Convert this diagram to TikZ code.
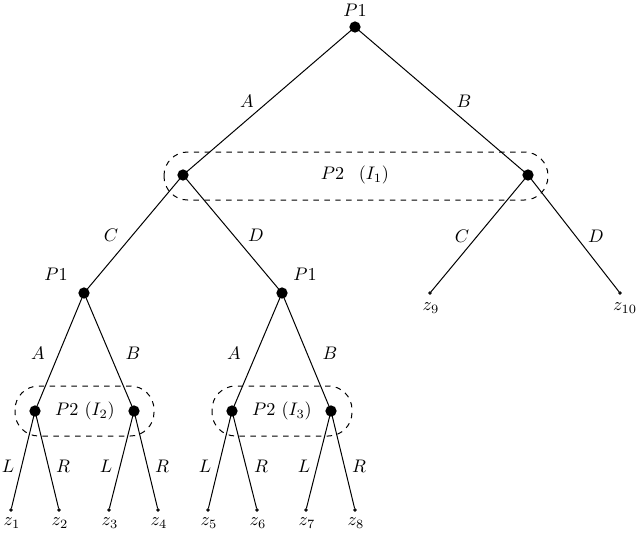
\documentclass[tikz,border=0pt]{standalone}
\begin{document}
\begin{tikzpicture}[x=0.55pt,y=-0.55pt,
  dec/.style={circle,fill=black,inner sep=0pt,minimum size=6.2pt},
  leaf/.style={circle,fill=black,draw=black,line width=0.3pt,inner sep=0pt,minimum size=1.6pt},
  edge/.style={line width=0.55pt},
  info/.style={dashed,line width=0.55pt,rounded corners=13pt},
  lab/.style={inner sep=1pt}]
\useasboundingbox (0,0) rectangle (640,533);
% decision nodes
\node[dec] (r) at (355,27) {};
\node[dec] (a) at (183,175) {};
\node[dec] (b) at (528,175) {};
\node[dec] (c) at (84,293) {};
\node[dec] (d) at (282,293) {};
\node[dec] (e) at (35,411) {};
\node[dec] (f) at (134,411) {};
\node[dec] (g) at (232,411) {};
\node[dec] (h) at (331,411) {};
% leaves
\node[leaf] (z9) at (430,293) {};
\node[leaf] (z10) at (620,293) {};
\node[leaf] (z1) at (11,510) {};
\node[leaf] (z2) at (59,510) {};
\node[leaf] (z3) at (109,510) {};
\node[leaf] (z4) at (158,510) {};
\node[leaf] (z5) at (208,510) {};
\node[leaf] (z6) at (257,510) {};
\node[leaf] (z7) at (306,510) {};
\node[leaf] (z8) at (355,510) {};
% player labels
\node[lab] (lr) at (355,10) {$P1$};
\node[lab] (lc) at (56,274) {$P1$};
\node[lab] (ld) at (305,274) {$P1$};
% leaf labels
\node[lab] (t9) at (431,308) {$z_9$};
\node[lab] (t10) at (625,308) {$z_{10}$};
\node[lab] (t1) at (12,523) {$z_1$};
\node[lab] (t2) at (60,523) {$z_2$};
\node[lab] (t3) at (110,523) {$z_3$};
\node[lab] (t4) at (159,523) {$z_4$};
\node[lab] (t5) at (209,523) {$z_5$};
\node[lab] (t6) at (258,523) {$z_6$};
\node[lab] (t7) at (307,523) {$z_7$};
\node[lab] (t8) at (356,523) {$z_8$};
% edges
\draw[edge] (r.center) -- (a.center);
\draw[edge] (r.center) -- (b.center);
\draw[edge] (a.center) -- (c.center);
\draw[edge] (a.center) -- (d.center);
\draw[edge] (b.center) -- (z9);
\draw[edge] (b.center) -- (z10);
\draw[edge] (c.center) -- (e.center);
\draw[edge] (c.center) -- (f.center);
\draw[edge] (d.center) -- (g.center);
\draw[edge] (d.center) -- (h.center);
\draw[edge] (e.center) -- (z1);
\draw[edge] (e.center) -- (z2);
\draw[edge] (f.center) -- (z3);
\draw[edge] (f.center) -- (z4);
\draw[edge] (g.center) -- (z5);
\draw[edge] (g.center) -- (z6);
\draw[edge] (h.center) -- (z7);
\draw[edge] (h.center) -- (z8);
% edge labels
\node[lab] (eA1) at (247,101) {$A$};
\node[lab] (eB1) at (464,101) {$B$};
\node[lab] (eC1) at (111,235) {$C$};
\node[lab] (eD1) at (256,235) {$D$};
\node[lab] (eC2) at (462,236) {$C$};
\node[lab] (eD2) at (596,236) {$D$};
\node[lab] (eA2) at (38,353) {$A$};
\node[lab] (eB2) at (133,353) {$B$};
\node[lab] (eA3) at (234,353) {$A$};
\node[lab] (eB3) at (330,353) {$B$};
\node[lab] (eL1) at (8,466) {$L$};
\node[lab] (eR1) at (63,466) {$R$};
\node[lab] (eL2) at (106,466) {$L$};
\node[lab] (eR2) at (162,466) {$R$};
\node[lab] (eL3) at (205,466) {$L$};
\node[lab] (eR3) at (261,466) {$R$};
\node[lab] (eL4) at (304,466) {$L$};
\node[lab] (eR4) at (359,466) {$R$};
% information sets
\draw[info] (164,152) rectangle (548,200);
\node[lab] (i1) at (355,175) {$P2\hspace{8pt}(I_1)$};
\draw[info] (15,386) rectangle (154,436);
\node[lab] (i2) at (85,411) {$P2\ (I_2)$};
\draw[info] (212,386) rectangle (352,436);
\node[lab] (i3) at (282,411) {$P2\ (I_3)$};
\end{tikzpicture}
\end{document}
